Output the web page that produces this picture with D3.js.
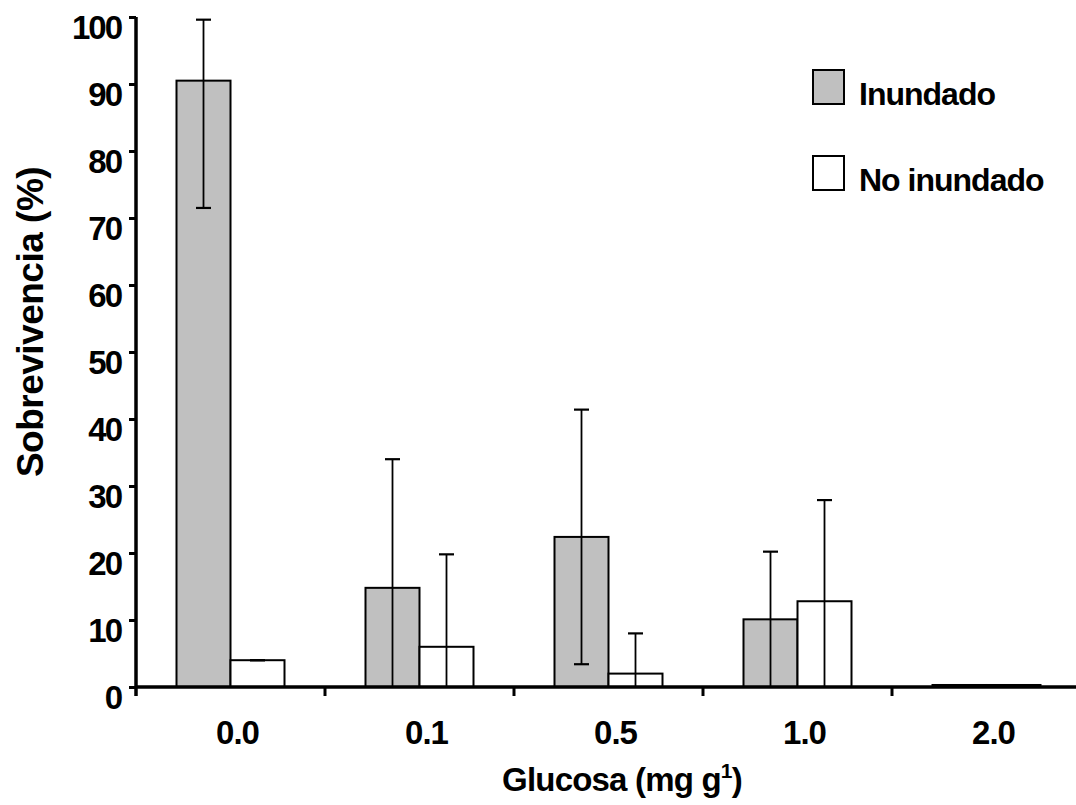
<!DOCTYPE html>
<html>
<head>
<meta charset="utf-8">
<script src="https://cdn.jsdelivr.net/npm/d3@7"></script>
<style>
  html, body { margin: 0; padding: 0; background: #fff; }
  svg { display: block; font-family: "Liberation Sans", Arial, sans-serif; }
</style>
</head>
<body>
<svg id="chart" width="1076" height="805"></svg>
<script>
// ---- data ----
const categories = ["0.0", "0.1", "0.5", "1.0", "2.0"];
const seriesNames = ["Inundado", "No inundado"];
const inundado = [90.5, 14.8, 22.4, 10.1, 0.3];
const inundadoErr = [19.0, 19.2, 19.0, 10.1, 0];
const noInundado = [4.0, 6.0, 2.0, 12.8, 0.3];
const noInundadoErr = [0, 13.8, 6.0, 15.1, 0];
const yTicks = [0, 10, 20, 30, 40, 50, 60, 70, 80, 90, 100];
const seriesFill = ["#c0c0c0", "#ffffff"];

const svg = d3.select("#chart");

const x0 = 136, yZero = 687, yTop = 17, step = 189;
const x = d3.scaleBand().domain(categories).range([x0, x0 + step * categories.length]).padding(0);
const y = d3.scaleLinear().domain([0, 100]).range([yZero, yTop]);
const barW = 54;
const xs = d3.scaleBand().domain(seriesNames)
  .range([x.bandwidth() / 2 - barW, x.bandwidth() / 2 + barW]).padding(0);

const seriesData = [
  { name: seriesNames[0], values: inundado, err: inundadoErr, fill: seriesFill[0] },
  { name: seriesNames[1], values: noInundado, err: noInundadoErr, fill: seriesFill[1] }
];

// bars
seriesData.forEach(s => {
  const g = svg.append("g");
  categories.forEach((c, i) => {
    const bx = x(c) + xs(s.name);
    const v = s.values[i];
    g.append("rect")
      .attr("x", bx).attr("y", y(v))
      .attr("width", xs.bandwidth()).attr("height", y(0) - y(v))
      .attr("fill", s.fill).attr("stroke", "#000").attr("stroke-width", 2);
  });
});

// error bars (clipped to the 0–100 range)
const capW = 15;
seriesData.forEach(s => {
  const g = svg.append("g").attr("stroke", "#000").attr("stroke-width", 1.8);
  categories.forEach((c, i) => {
    const cx = x(c) + xs(s.name) + xs.bandwidth() / 2;
    const v = s.values[i], e = s.err[i];
    if (v <= 0.5 && e === 0) return;
    const hi = Math.min(99.6, v + e), lo = Math.max(0, v - e);
    g.append("line").attr("x1", cx).attr("x2", cx).attr("y1", y(hi)).attr("y2", y(lo));
    g.append("line").attr("x1", cx - capW / 2).attr("x2", cx + capW / 2)
      .attr("y1", y(hi)).attr("y2", y(hi)).attr("stroke-width", 2.2);
    if (v - e > 0) {
      g.append("line").attr("x1", cx - capW / 2).attr("x2", cx + capW / 2)
        .attr("y1", y(lo)).attr("y2", y(lo)).attr("stroke-width", 2.2);
    }
  });
});

// y axis
const yAxis = d3.axisLeft(y).tickValues(yTicks).tickSize(7).tickFormat(d => d);
const gy = svg.append("g").attr("transform", `translate(${x0},0)`).call(yAxis);
gy.select(".domain").attr("stroke", "#000").attr("stroke-width", 3.5)
  .attr("d", `M0,${yTop}V${yZero + 9}`);
gy.selectAll(".tick line").attr("stroke", "#000").attr("stroke-width", 3);
gy.selectAll(".tick text")
  .attr("x", -15).attr("dy", null).attr("y", 21.5)
  .attr("fill", "#000")
  .style("font-size", "33px").style("font-weight", "bold")
  .style("letter-spacing", "-2px")
  .style("font-family", "'Liberation Sans', Arial, sans-serif");

// x axis
const xEdges = d3.range(categories.length + 1).map(i => x0 + i * step);
const gx = svg.append("g");
gx.append("line").attr("x1", x0).attr("x2", 1076).attr("y1", yZero).attr("y2", yZero)
  .attr("stroke", "#000").attr("stroke-width", 3.5);
gx.selectAll("line.tk").data(xEdges.slice(1)).enter().append("line")
  .attr("class", "tk")
  .attr("x1", d => d).attr("x2", d => d).attr("y1", yZero).attr("y2", yZero + 9)
  .attr("stroke", "#000").attr("stroke-width", 3);
const xAxis = d3.axisBottom(x).tickSize(0).tickPadding(0);
const gxl = svg.append("g").attr("transform", `translate(0,${yZero})`).call(xAxis);
gxl.select(".domain").remove();
gxl.selectAll(".tick text")
  .attr("dy", null).attr("y", 57).attr("x", 7)
  .attr("fill", "#000")
  .style("font-size", "33px").style("font-weight", "bold")
  .style("letter-spacing", "-1px")
  .style("font-family", "'Liberation Sans', Arial, sans-serif");

// axis titles
const xt = svg.append("text")
  .attr("x", 622).attr("y", 791).attr("text-anchor", "middle")
  .style("font-size", "33px").style("font-weight", "bold").style("letter-spacing", "-0.8px");
xt.append("tspan").text("Glucosa (mg g");
xt.append("tspan").attr("dy", -13).style("font-size", "21px").text("1");
xt.append("tspan").attr("dy", 13).text(")");

svg.append("text")
  .attr("transform", "translate(43,322) rotate(-90)")
  .attr("text-anchor", "middle")
  .style("font-size", "37px").style("font-weight", "bold").style("letter-spacing", "-0.5px")
  .text("Sobrevivencia (%)");

// legend
const legY = [70, 156];
seriesData.forEach((s, i) => {
  svg.append("rect").attr("x", 813).attr("y", legY[i]).attr("width", 31).attr("height", 34)
    .attr("fill", s.fill).attr("stroke", "#000").attr("stroke-width", 2);
  svg.append("text").attr("x", 859).attr("y", legY[i] + 35)
    .style("font-size", "32px").style("font-weight", "bold").style("letter-spacing", "-1px")
    .text(s.name);
});
</script>
</body>
</html>
